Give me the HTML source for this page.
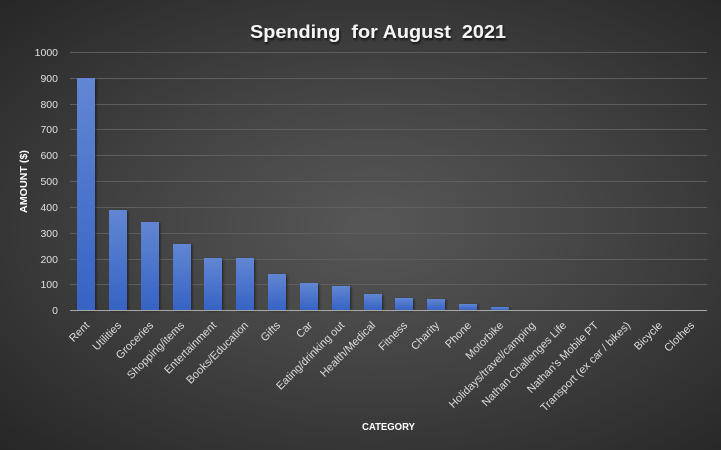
<!DOCTYPE html>
<html>
<head>
<meta charset="utf-8">
<style>
  html,body{margin:0;padding:0;}
  body{width:721px;height:450px;overflow:hidden;
    background: radial-gradient(ellipse farthest-corner at 52% 50%, #575757 0%, #434343 45%, #262626 100%);}
  svg{display:block;}
  text{font-family:"Liberation Sans", Arial, sans-serif;}
</style>
</head>
<body>
<svg width="721" height="450" viewBox="0 0 721 450" xmlns="http://www.w3.org/2000/svg">
  <defs>
    <linearGradient id="bg" x1="0" y1="0" x2="0" y2="1">
      <stop offset="0" stop-color="#6286d3"/>
      <stop offset="1" stop-color="#3663c4"/>
    </linearGradient>
    <filter id="ts" x="-5%" y="-30%" width="110%" height="160%">
      <feDropShadow dx="1" dy="2" stdDeviation="1" flood-color="#000" flood-opacity="0.7"/>
    </filter>
    <filter id="bs" x="-30%" y="-10%" width="160%" height="120%">
      <feDropShadow dx="1.5" dy="1" stdDeviation="1.2" flood-color="#000" flood-opacity="0.45"/>
    </filter>
  </defs>

  <!-- Title -->
  <text x="250" y="38" font-size="18.5" font-weight="bold" fill="#f4f4f4" textLength="256" lengthAdjust="spacingAndGlyphs" filter="url(#ts)" xml:space="preserve">Spending  for August  2021</text>

  <!-- gridlines -->
  <g stroke="#5e5e5e" stroke-width="1">
    <line x1="70" x2="707" y1="52.5" y2="52.5"/>
    <line x1="70" x2="707" y1="78.5" y2="78.5"/>
    <line x1="70" x2="707" y1="104.5" y2="104.5"/>
    <line x1="70" x2="707" y1="129.5" y2="129.5"/>
    <line x1="70" x2="707" y1="155.5" y2="155.5"/>
    <line x1="70" x2="707" y1="181.5" y2="181.5"/>
    <line x1="70" x2="707" y1="207.5" y2="207.5"/>
    <line x1="70" x2="707" y1="233.5" y2="233.5"/>
    <line x1="70" x2="707" y1="259.5" y2="259.5"/>
    <line x1="70" x2="707" y1="284.5" y2="284.5"/>
  </g>

  <!-- y tick labels -->
  <g font-size="10.5" fill="#e0e0e0" text-anchor="end">
    <text x="58" y="56">1000</text>
    <text x="58" y="82">900</text>
    <text x="58" y="108">800</text>
    <text x="58" y="133">700</text>
    <text x="58" y="159">600</text>
    <text x="58" y="185">500</text>
    <text x="58" y="211">400</text>
    <text x="58" y="237">300</text>
    <text x="58" y="263">200</text>
    <text x="58" y="288">100</text>
    <text x="58" y="314">0</text>
  </g>

  <!-- y axis title -->
  <text transform="translate(27,213) rotate(-90)" font-size="10" font-weight="bold" fill="#ffffff" textLength="63" lengthAdjust="spacingAndGlyphs">AMOUNT ($)</text>

  <!-- bars -->
  <g fill="url(#bg)" filter="url(#bs)">
    <rect x="77" y="78" width="18" height="232"/>
    <rect x="109" y="210" width="18" height="100"/>
    <rect x="141" y="222" width="18" height="88"/>
    <rect x="173" y="244" width="18" height="66"/>
    <rect x="204" y="258" width="18" height="52"/>
    <rect x="236" y="258" width="18" height="52"/>
    <rect x="268" y="274" width="18" height="36"/>
    <rect x="300" y="283" width="18" height="27"/>
    <rect x="332" y="286" width="18" height="24"/>
    <rect x="364" y="294" width="18" height="16"/>
    <rect x="395" y="298" width="18" height="12"/>
    <rect x="427" y="299" width="18" height="11"/>
    <rect x="459" y="304" width="18" height="6"/>
    <rect x="491" y="307" width="18" height="3"/>
  </g>

  <!-- x axis line -->
  <line x1="70" x2="707" y1="310.5" y2="310.5" stroke="#a8a8a8" stroke-width="1"/>

  <!-- x tick labels -->
  <g font-size="11" fill="#dcdcdc" text-anchor="end">
    <text transform="translate(90,326) rotate(-45)">Rent</text>
    <text transform="translate(122,326) rotate(-45)">Utilities</text>
    <text transform="translate(154,326) rotate(-45)">Groceries</text>
    <text transform="translate(185,326) rotate(-45)">Shopping/items</text>
    <text transform="translate(217,326) rotate(-45)">Entertainment</text>
    <text transform="translate(249,326) rotate(-45)">Books/Education</text>
    <text transform="translate(281,326) rotate(-45)">Gifts</text>
    <text transform="translate(313,326) rotate(-45)">Car</text>
    <text transform="translate(345,326) rotate(-45)">Eating/drinking out</text>
    <text transform="translate(376,326) rotate(-45)">Health/Medical</text>
    <text transform="translate(408,326) rotate(-45)">Fitness</text>
    <text transform="translate(440,326) rotate(-45)">Charity</text>
    <text transform="translate(472,326) rotate(-45)">Phone</text>
    <text transform="translate(504,326) rotate(-45)">Motorbike</text>
    <text transform="translate(536,326) rotate(-45)">Holidays/travel/camping</text>
    <text transform="translate(567,326) rotate(-45)">Nathan Challenges Life</text>
    <text transform="translate(599,326) rotate(-45)">Nathan's Mobile PT</text>
    <text transform="translate(631,326) rotate(-45)">Transport (ex car / bikes)</text>
    <text transform="translate(663,326) rotate(-45)">Bicycle</text>
    <text transform="translate(695,326) rotate(-45)">Clothes</text>
  </g>

  <!-- x axis title -->
  <text x="362" y="430" font-size="10" font-weight="bold" fill="#ffffff" textLength="53" lengthAdjust="spacingAndGlyphs">CATEGORY</text>
</svg>
</body>
</html>
